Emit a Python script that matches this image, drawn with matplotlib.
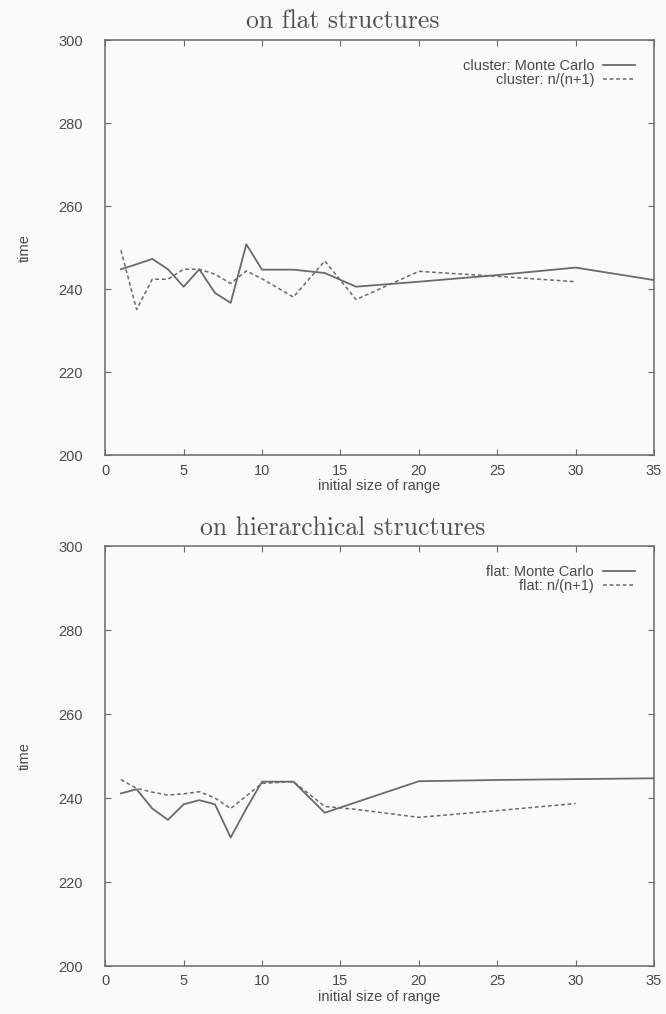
import matplotlib.pyplot as plt

plt.rcParams['font.family'] = ['Liberation Sans', 'DejaVu Sans']

# top chart: cluster
x_mc_top = [1, 2, 3, 4, 5, 6, 7, 8, 9, 10, 12, 14, 16, 20, 25, 30, 35]
y_mc_top = [244.8, 246.0, 247.3, 244.8, 240.6, 244.8, 239.1, 236.7, 250.8, 244.7,
            244.7, 243.9, 240.6, 241.8, 243.4, 245.2, 242.2]
x_nn_top = [1, 2, 3, 4, 5, 6, 7, 8, 9, 10, 12, 14, 16, 20, 25, 30]
y_nn_top = [249.4, 235.1, 242.4, 242.4, 244.8, 244.8, 243.6, 241.4, 244.4, 242.5,
            238.1, 246.8, 237.5, 244.3, 243.1, 241.8]

# bottom chart: flat
x_mc_bot = [1, 2, 3, 4, 5, 6, 7, 8, 9, 10, 12, 14, 16, 20, 25, 30, 35]
y_mc_bot = [241.1, 242.1, 237.5, 234.8, 238.5, 239.5, 238.5, 230.6, 237.5, 243.9,
            243.9, 236.5, 239.0, 244.0, 244.3, 244.5, 244.7]
x_nn_bot = [1, 2, 3, 4, 5, 6, 7, 8, 9, 10, 12, 14, 16, 20, 25, 30]
y_nn_bot = [244.4, 242.3, 241.4, 240.7, 241.0, 241.5, 240.0, 237.5, 240.5, 243.5,
            243.9, 238.0, 237.3, 235.4, 237.0, 238.7]

titles = ["on flat structures", "on hierarchical structures"]
labels = [("cluster: Monte Carlo", "cluster: n/(n+1)"),
          ("flat: Monte Carlo", "flat: n/(n+1)")]

bg = "#fcf9f9"
gray = "#6a6a6a"
txt = "#4a4a4a"

fig = plt.figure(figsize=(6.66, 10.14), dpi=100, facecolor=bg)
ax1 = fig.add_axes([0.158, 0.551, 0.824, 0.4095])
ax2 = fig.add_axes([0.158, 0.0473, 0.824, 0.4142])

data = [(x_mc_top, y_mc_top, x_nn_top, y_nn_top),
        (x_mc_bot, y_mc_bot, x_nn_bot, y_nn_bot)]
title_y = [0.972, 0.472]

for ax, (xm, ym, xn, yn), title, ty, (l1, l2) in zip([ax1, ax2], data, titles, title_y, labels):
    ax.set_facecolor(bg)
    ax.plot(xm, ym, color=gray, lw=1.3, label=l1)
    ax.plot(xn, yn, color=gray, lw=1.1, ls=(0, (2.5, 1.8)), label=l2)
    ax.set_xlim(0, 35)
    ax.set_ylim(200, 300)
    ax.set_xticks(range(0, 36, 5))
    ax.set_yticks(range(200, 301, 20))
    ax.tick_params(direction="in", top=True, right=True, length=4,
                   color=gray, labelcolor=txt, labelsize=10.5)
    ax.tick_params(axis="y", pad=16)
    ax.tick_params(axis="x", pad=6)
    for s in ax.spines.values():
        s.set_color(gray)
        s.set_linewidth(1.1)
    # title is centred a bit left of the axes centre in the original
    fig.text(0.515, ty, title, fontfamily="cmr10", fontsize=18.5,
             color="#505050", ha="center", va="baseline")
    ax.set_ylabel("time", color=txt, fontsize=10.5, labelpad=19)
    ax.set_xlabel("initial size of range", color=txt, fontsize=10.5, labelpad=1)
    leg = ax.legend(loc="upper right", frameon=False, markerfirst=False,
                    handlelength=2.2, fontsize=10.5, labelcolor=txt,
                    borderaxespad=0.9, labelspacing=0.0, handletextpad=0.6)
    for t in leg.get_texts():
        t.set_ha("right")

plt.savefig("out.png", dpi=100, facecolor=bg)
